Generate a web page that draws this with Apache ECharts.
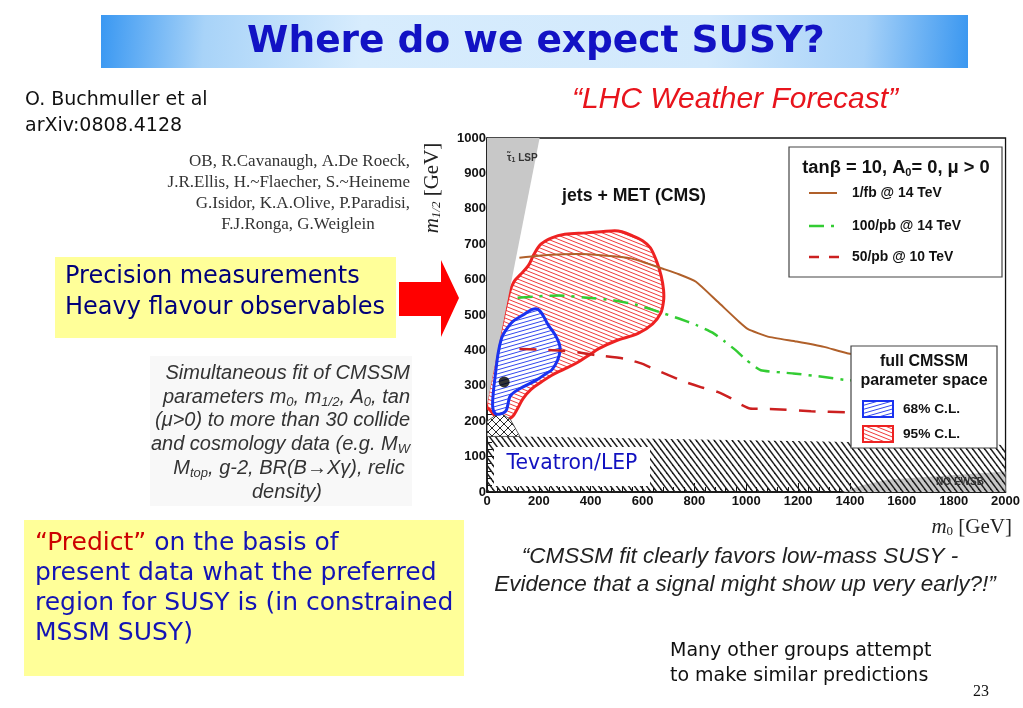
<!DOCTYPE html>
<html><head><meta charset="utf-8">
<script src="https://cdn.jsdelivr.net/npm/echarts@6/dist/echarts.min.js"></script>
<style>html,body{margin:0;padding:0;background:#fff}#c{width:1023px;height:708px}</style>
</head><body><div id="c"></div>
<script>
// ---------------- data (m0 [GeV], m1/2 [GeV]) ----------------
const curve1fb14TeV = [[125,662],[250,670],[347,672],[450,668],[556,660],[620,645],[681,630],[740,615],[806,594],[889,538],[972,481],[1007,460],[1083,439],[1194,425],[1300,410],[1389,392],[1480,385]];
const curve100pb14TeV = [[118,549],[200,553],[278,555],[400,548],[486,542],[580,528],[667,508],[740,490],[806,472],[870,450],[917,425],[960,400],[1000,373],[1056,344],[1181,335],[1300,325],[1389,316],[1480,312]];
const curve50pb10TeV = [[125,404],[200,402],[278,400],[350,395],[417,387],[528,377],[600,362],[639,349],[700,330],[764,311],[830,295],[889,283],[940,265],[972,250],[1014,236],[1111,234],[1250,228],[1389,225],[1480,224]];
const region95CL = [[12,231],[35,212],[65,202],[97,212],[118,236],[139,264],[170,290],[208,310],[250,330],[292,345],[347,365],[400,390],[431,405],[500,428],[583,448],[639,475],[670,505],[681,540],[681,570],[672,610],[655,650],[630,690],[600,710],[560,724],[520,735],[493,738],[440,735],[380,732],[300,728],[250,718],[208,700],[180,670],[160,640],[130,615],[104,594],[85,560],[60,480],[35,390],[10,300],[0,262],[0,240]];
const region68CL = [[69,453],[100,482],[139,500],[175,516],[197,516],[215,500],[236,472],[262,445],[278,420],[282,400],[272,372],[250,345],[229,335],[190,316],[139,297],[105,282],[88,269],[80,245],[72,228],[50,220],[31,222],[22,240],[24,278],[32,330],[43,392],[56,434]];
const bestFitPoint = [[66,311]];
const stauLSPRegion = [[0,245],[0,1000],[203,1000]];
const tevatronLEPRegion = [[0,0],[0,158],[300,155],[600,151],[1000,146],[1400,141],[1800,137],[2000,133],[2000,0]];
const crossHatchRegion = [[0,157],[0,200],[30,215],[55,222],[90,205],[127,157]];
const noEWSBRegion = [[1370,0],[1450,20],[1550,35],[1750,45],[2000,58],[2000,0]];
const xRange = [0, 2000], xStep = 200;
const yRange = [0, 1000], yStep = 100;
const legendLines = ['1/fb @ 14 TeV', '100/pb @ 14 TeV', '50/pb @ 10 TeV'];
const legendRegions = ['68% C.L.', '95% C.L.'];

// ---------------- hatch patterns ----------------
function hatch(w, h, dirs, color, lw, bg) {
  const c = document.createElement('canvas');
  c.width = w; c.height = h;
  const g = c.getContext('2d');
  if (bg) { g.fillStyle = bg; g.fillRect(0, 0, w, h); }
  g.strokeStyle = color; g.lineWidth = lw;
  dirs.forEach(d => {
    for (const dx of [-w, 0, w]) for (const dy of [-h, 0, h]) {
      g.beginPath();
      if (d > 0) { g.moveTo(dx, dy); g.lineTo(dx + w, dy + h); }
      else { g.moveTo(dx, dy + h); g.lineTo(dx + w, dy); }
      g.stroke();
    }
  });
  return { image: c, repeat: 'repeat' };
}
const redHatch = hatch(10, 4, [1], '#f03a3a', 1, '#ffffff');
const blueHatch = hatch(14, 4, [-1], '#3346ee', 1, '#ffffff');
const blackHatch = hatch(6, 8, [1], '#1e1e1e', 1.5, null);
const crossHatch = hatch(8, 8, [1, -1], '#2a2a2a', 1, '#ffffff');

function polySeries(name, pts, style, z, smooth) {
  return {
    type: 'custom', name, z, silent: true, clip: true, data: pts,
    renderItem: (params, api) => {
      if (params.dataIndex !== 0) return;
      return { type: 'polygon', shape: { points: pts.map(p => api.coord(p)), smooth: smooth || 0 }, style };
    }
  };
}

const F = '"Liberation Sans", Arial, sans-serif';
const C = '"DejaVu Sans", sans-serif';
const S = '"Liberation Serif", "DejaVu Serif", serif';

function txt(x, y, text, font, fill, align, extra) {
  return Object.assign({ type: 'text', x, y, z: 60, silent: true,
    style: { text, font, fill, textAlign: align || 'left', textVerticalAlign: 'middle' } }, extra || {});
}

const chart = echarts.init(document.getElementById('c'), null, { renderer: 'canvas' });

const graphic = [
  // title bar
  { type: 'rect', z: 1, shape: { x: 101, y: 15, width: 867, height: 53 },
    style: { fill: new echarts.graphic.LinearGradient(0, 0, 1, 1, [
      { offset: 0, color: '#3a98f2' }, { offset: 0.12, color: '#a8d3f8' }, { offset: 0.3, color: '#d7ecfd' },
      { offset: 0.7, color: '#d2e9fc' }, { offset: 0.88, color: '#a6d1f8' }, { offset: 1, color: '#3a97f0' }]) } },
  txt(536, 42, 'Where do we expect SUSY?', 'bold 37.5px ' + C, '#1212c4', 'center'),
  txt(25, 100, 'O. Buchmuller et al', '19px ' + C, '#111'),
  txt(25, 126, 'arXiv:0808.4128', '19px ' + C, '#111'),
  // authors
  txt(410, 162, 'OB, R.Cavanaugh, A.De Roeck,', '17px ' + S, '#333', 'right'),
  txt(410, 183, 'J.R.Ellis, H.~Flaecher, S.~Heineme', '17px ' + S, '#333', 'right'),
  txt(410, 204, 'G.Isidor, K.A.Olive, P.Paradisi,', '17px ' + S, '#333', 'right'),
  txt(298, 225, 'F.J.Ronga, G.Weiglein', '17px ' + S, '#333', 'center'),
  // yellow box 1 + arrow
  { type: 'rect', z: 1, shape: { x: 55, y: 257, width: 341, height: 81 }, style: { fill: '#ffff99' } },
  txt(65, 277, 'Precision measurements', '24px ' + C, '#00007a'),
  txt(65, 308, 'Heavy flavour observables', '24px ' + C, '#00007a'),
  { type: 'polygon', z: 1, shape: { points: [[399,282],[441,282],[441,260],[459,298],[441,337],[441,316],[399,316]] }, style: { fill: '#ff0000' } },
  // italic block
  { type: 'rect', z: 1, shape: { x: 150, y: 356, width: 262, height: 150 }, style: { fill: '#f8f8f8' } },
  txt(410, 373, 'Simultaneous fit of CMSSM', 'italic 20px ' + F, '#333', 'right'),
  { type: 'text', x: 410, y: 397, z: 60, style: { text: 'parameters m{s|0}, m{s|1/2}, A{s|0}, tan', font: 'italic 20px ' + F, fill: '#333', textAlign: 'right', textVerticalAlign: 'middle',
      rich: { s: { font: 'italic 13px ' + F, fill: '#333', padding: [10, 0, 0, 0] } } } },
  txt(410, 420, '(μ>0) to more than 30 collide', 'italic 20px ' + F, '#333', 'right'),
  { type: 'text', x: 410, y: 444, z: 60, style: { text: 'and cosmology data (e.g. M{s|W}', font: 'italic 20px ' + F, fill: '#333', textAlign: 'right', textVerticalAlign: 'middle',
      rich: { s: { font: 'italic 13px ' + F, fill: '#333', padding: [10, 0, 0, 0] } } } },
  { type: 'text', x: 289, y: 468, z: 60, style: { text: 'M{s|top}, g-2, BR(B→Xγ), relic', font: 'italic 20px ' + F, fill: '#333', textAlign: 'center', textVerticalAlign: 'middle',
      rich: { s: { font: 'italic 13px ' + F, fill: '#333', padding: [10, 0, 0, 0] } } } },
  txt(287, 492, 'density)', 'italic 20px ' + F, '#333', 'center'),
  // yellow box 2
  { type: 'rect', z: 1, shape: { x: 24, y: 520, width: 440, height: 156 }, style: { fill: '#ffff99' } },
  { type: 'text', x: 35, y: 543, z: 60, style: { text: '{r|“Predict”}{b| on the basis of}', font: '25px ' + C, textVerticalAlign: 'middle',
      rich: { r: { font: '25px ' + C, fill: '#cc0000' }, b: { font: '25px ' + C, fill: '#1414b4' } } } },
  txt(35, 573, 'present data what the preferred', '25px ' + C, '#1414b4'),
  txt(35, 603, 'region for SUSY is (in constrained', '25px ' + C, '#1414b4'),
  txt(35, 633, 'MSSM SUSY)', '25px ' + C, '#1414b4'),
  // right texts
  txt(735, 100, '“LHC Weather Forecast”', 'italic 30px ' + F, '#e8141c', 'center'),
  txt(740, 557, '“CMSSM fit clearly favors low-mass SUSY -', 'italic 22.5px ' + F, '#222', 'center'),
  txt(745, 585, 'Evidence that a signal might show up very early?!”', 'italic 22.5px ' + F, '#222', 'center'),
  txt(670, 651, 'Many other groups attempt', '19px ' + C, '#111'),
  txt(670, 676, 'to make similar predictions', '19px ' + C, '#111'),
  txt(973, 692, '23', '16px ' + S, '#111'),
  // axis names
  { type: 'text', x: 432, y: 188, rotation: Math.PI / 2, z: 60, style: { text: '{i|m}{s|1/2} [GeV]', font: '21px ' + S, fill: '#222', textAlign: 'center', textVerticalAlign: 'middle',
      rich: { i: { font: 'italic 21px ' + S, fill: '#222' }, s: { font: 'italic 13px ' + S, fill: '#222', padding: [9, 0, 0, 0] } } } },
  { type: 'text', x: 1012, y: 527, z: 60, style: { text: '{i|m}{s|0} [GeV]', font: '21px ' + S, fill: '#222', textAlign: 'right', textVerticalAlign: 'middle',
      rich: { i: { font: 'italic 21px ' + S, fill: '#222' }, s: { font: '13px ' + S, fill: '#222', padding: [9, 0, 0, 0] } } } },
  // in-plot annotations
  { type: 'text', x: 507, y: 158, z: 60, style: { text: 'τ̃{s|1} LSP', font: 'bold 10px ' + F, fill: '#333', textVerticalAlign: 'middle',
      rich: { s: { font: 'bold 7px ' + F, fill: '#333', padding: [5, 0, 0, 0] } } } },
  txt(562, 196, 'jets + MET (CMS)', 'bold 17.7px ' + F, '#111'),
  txt(960, 482, 'NO EWSB', 'bold 10px ' + F, '#333', 'center'),
  { type: 'rect', z: 50, shape: { x: 494, y: 447, width: 156, height: 39 }, style: { fill: '#fff' } },
  txt(572, 464, 'Tevatron/LEP', '20.4px ' + C, '#1212c0', 'center'),
  // legend box 1
  { type: 'rect', z: 50, shape: { x: 789, y: 147, width: 213, height: 130 }, style: { fill: '#fff', stroke: '#444', lineWidth: 1.2 } },
  { type: 'text', x: 896, y: 168, z: 60, style: { text: 'tanβ = 10, A{s|0}= 0, μ > 0', font: 'bold 18.3px ' + F, fill: '#111', textAlign: 'center', textVerticalAlign: 'middle',
      rich: { s: { font: 'bold 11px ' + F, fill: '#111', padding: [9, 0, 0, 0] } } } },
  { type: 'line', z: 60, shape: { x1: 809, y1: 193, x2: 837, y2: 193 }, style: { stroke: '#b0602a', lineWidth: 2 } },
  { type: 'line', z: 60, shape: { x1: 809, y1: 226, x2: 840, y2: 226 }, style: { stroke: '#33cc33', lineWidth: 2.5, lineDash: [15, 7, 3, 7] } },
  { type: 'line', z: 60, shape: { x1: 809, y1: 257, x2: 840, y2: 257 }, style: { stroke: '#cc2020', lineWidth: 2.5, lineDash: [10, 10] } },
  txt(852, 193, legendLines[0], 'bold 13.9px ' + F, '#111'),
  txt(852, 226, legendLines[1], 'bold 13.9px ' + F, '#111'),
  txt(852, 257, legendLines[2], 'bold 13.9px ' + F, '#111'),
  // legend box 2
  { type: 'rect', z: 50, shape: { x: 851, y: 346, width: 146, height: 102 }, style: { fill: '#fff', stroke: '#444', lineWidth: 1.2 } },
  txt(924, 362, 'full CMSSM', 'bold 16px ' + F, '#111', 'center'),
  txt(924, 381, 'parameter space', 'bold 16px ' + F, '#111', 'center'),
  { type: 'rect', z: 60, shape: { x: 863, y: 401, width: 30, height: 16 }, style: { fill: blueHatch, stroke: '#1a32f0', lineWidth: 2 } },
  { type: 'rect', z: 60, shape: { x: 863, y: 426, width: 30, height: 16 }, style: { fill: redHatch, stroke: '#ee2222', lineWidth: 2 } },
  txt(903, 409, legendRegions[0], 'bold 13.7px ' + F, '#111'),
  txt(903, 434, legendRegions[1], 'bold 13.7px ' + F, '#111')
];

const plain = v => String(v);

const option = {
  backgroundColor: '#fff',
  animation: false,
  grid: { left: 487, top: 138, right: 14, bottom: 216, show: true, borderColor: '#111', borderWidth: 1.3, backgroundColor: 'transparent' },
  xAxis: {
    type: 'value', min: xRange[0], max: xRange[1], interval: xStep,
    axisLine: { lineStyle: { color: '#111', width: 1.5 } },
    axisTick: { inside: true, length: 9, lineStyle: { color: '#111' } },
    minorTick: { show: true, splitNumber: 5, length: 5, lineStyle: { color: '#111' } },
    axisLabel: { margin: 3, fontWeight: 'bold', fontSize: 13, color: '#111', fontFamily: F, formatter: plain },
    splitLine: { show: false }
  },
  yAxis: {
    type: 'value', min: yRange[0], max: yRange[1], interval: yStep,
    axisLine: { lineStyle: { color: '#111', width: 1.5 } },
    axisTick: { inside: true, length: 9, lineStyle: { color: '#111' } },
    minorTick: { show: true, splitNumber: 5, length: 5, lineStyle: { color: '#111' } },
    axisLabel: { margin: 1, fontWeight: 'bold', fontSize: 13, color: '#111', fontFamily: F, formatter: plain },
    splitLine: { show: false }
  },
  series: [
    polySeries('NO EWSB', noEWSBRegion, { fill: '#c8c8c8' }, 1),
    polySeries('Tevatron/LEP', tevatronLEPRegion, { fill: blackHatch }, 2),
    polySeries('95% C.L.', region95CL, { fill: redHatch, stroke: '#ee2222', lineWidth: 3 }, 3, 0.35),
    polySeries('stau LSP', stauLSPRegion, { fill: '#c8c8c8' }, 4),
    polySeries('cross', crossHatchRegion, { fill: crossHatch, stroke: '#333', lineWidth: 0.8 }, 4),
    polySeries('68% C.L.', region68CL, { fill: blueHatch, stroke: '#1a32f0', lineWidth: 3 }, 5, 0.35),
    { type: 'line', name: legendLines[0], data: curve1fb14TeV, z: 6, symbol: 'none', smooth: 0.15, clip: true,
      lineStyle: { color: '#b0602a', width: 2 } },
    { type: 'line', name: legendLines[1], data: curve100pb14TeV, z: 6, symbol: 'none', smooth: 0.15, clip: true,
      lineStyle: { color: '#33cc33', width: 2.5, type: [15, 7, 3, 7] } },
    { type: 'line', name: legendLines[2], data: curve50pb10TeV, z: 6, symbol: 'none', smooth: 0.15, clip: true,
      lineStyle: { color: '#cc2020', width: 2.5, type: [17, 12] } },
    { type: 'scatter', name: 'best fit', data: bestFitPoint, z: 7, symbolSize: 11, itemStyle: { color: '#000' } }
  ],
  graphic
};
chart.setOption(option);
</script>
</body></html>
